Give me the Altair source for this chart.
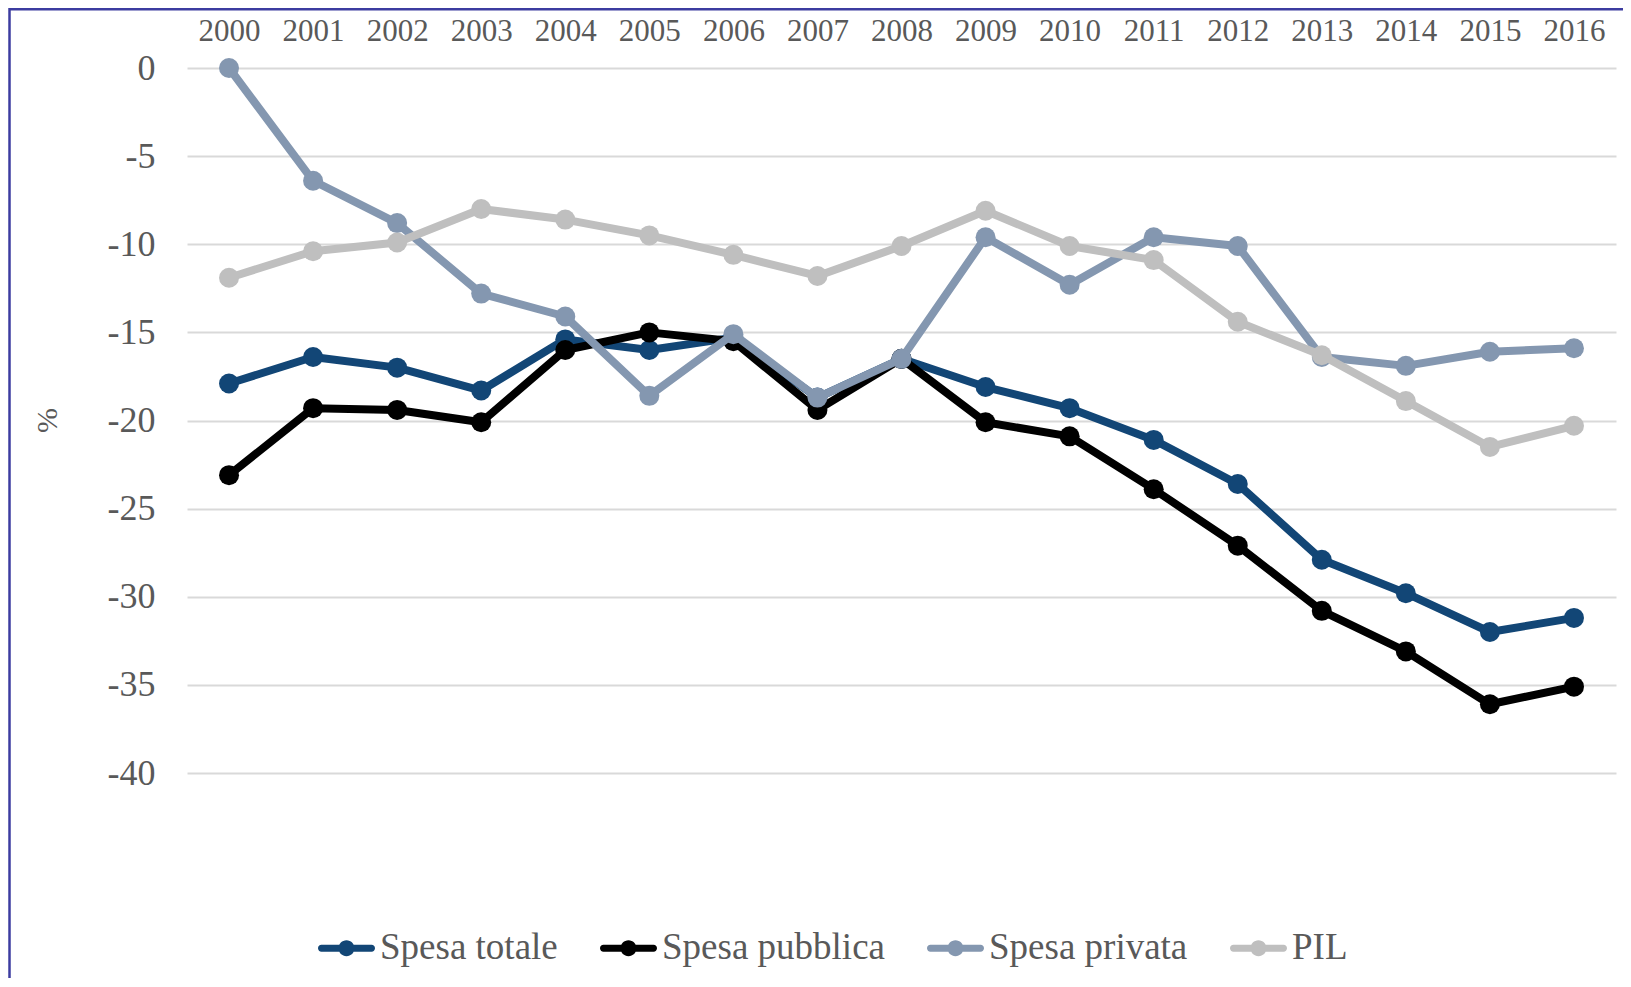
import altair as alt
import pandas as pd

years = ["2000", "2001", "2002", "2003", "2004", "2005", "2006", "2007", "2008",
         "2009", "2010", "2011", "2012", "2013", "2014", "2015", "2016"]

spesa_totale = [-17.9, -16.4, -17.0, -18.3, -15.4, -16.0, -15.3, -18.7, -16.5,
                -18.1, -19.3, -21.1, -23.6, -27.9, -29.8, -32.0, -31.2]
spesa_pubblica = [-23.1, -19.3, -19.4, -20.1, -16.0, -15.0, -15.5, -19.4, -16.5,
                  -20.1, -20.9, -23.9, -27.1, -30.8, -33.1, -36.1, -35.1]
spesa_privata = [0.0, -6.4, -8.8, -12.8, -14.1, -18.6, -15.1, -18.7, -16.5,
                 -9.6, -12.3, -9.6, -10.1, -16.4, -16.9, -16.1, -15.9]
pil = [-11.9, -10.4, -9.9, -8.0, -8.6, -9.5, -10.6, -11.8, -10.1,
       -8.1, -10.1, -10.9, -14.4, -16.3, -18.9, -21.5, -20.3]

series_names = ["Spesa totale", "Spesa pubblica", "Spesa privata", "PIL"]
series_values = [spesa_totale, spesa_pubblica, spesa_privata, pil]
colors = ["#124676", "#000000", "#8497B0", "#BFBFBF"]
y_ticks = [0, -5, -10, -15, -20, -25, -30, -35, -40]

rows = []
for name, vals in zip(series_names, series_values):
    for yr, v in zip(years, vals):
        rows.append({"anno": yr, "serie": name, "valore": v})
df = pd.DataFrame(rows)

FONT = "Liberation Serif"
GREY = "#595959"

x_enc = alt.X(
    "anno:O", sort=years,
    scale=alt.Scale(type="point", padding=0.5),
    axis=alt.Axis(orient="top", title=None, domain=False, ticks=False, tickSize=0,
                  grid=False, labelFont=FONT, labelFontSize=31, labelColor=GREY,
                  labelPadding=37, labelBaseline="middle", labelAngle=0),
)
y_enc = alt.Y(
    "valore:Q",
    scale=alt.Scale(domain=[-40, 0], nice=False, zero=False),
    axis=alt.Axis(values=y_ticks, title="%", titleFont=FONT, titleFontSize=30,
                  titleColor=GREY, titleFontWeight="normal", titleAngle=270,
                  titleX=-140, titleY=352, titleBaseline="middle", titleAlign="center",
                  domain=False, ticks=False, tickSize=0, grid=True,
                  gridColor="#D9D9D9", gridWidth=2,
                  labelFont=FONT, labelFontSize=36, labelColor=GREY, labelPadding=32,
                  labelExpr="'' + datum.value"),
)

# filled legend glyph: a rounded bar with a disc in the middle (unit box -1..1)
legend_path = ("M-0.88,-0.12 L0.88,-0.12 A0.12,0.12 0 0,1 0.88,0.12 L-0.88,0.12 "
               "A0.12,0.12 0 0,1 -0.88,-0.12 Z "
               "M-0.28,0 A0.28,0.28 0 1,1 0.28,0 A0.28,0.28 0 1,1 -0.28,0 Z")

legend = alt.Legend(orient="none", legendX=131, legendY=851.5, direction="horizontal",
                    title=None, symbolType=legend_path, symbolSize=3249,
                    symbolStrokeWidth=0, labelFont=FONT, labelFontSize=37,
                    labelColor=GREY, labelOffset=5, columnPadding=42,
                    labelLimit=600)

fill_scale = alt.Scale(domain=series_names, range=colors)
# same mapping, listed in reverse so that the hidden stroke legend stays separate
stroke_scale = alt.Scale(domain=series_names[::-1], range=colors[::-1])

layers = []
for name in series_names:
    base = alt.Chart(df).transform_filter(alt.datum.serie == name)
    line = base.mark_line(strokeWidth=8, strokeJoin="round", strokeCap="round").encode(
        x=x_enc, y=y_enc,
        stroke=alt.Stroke("serie:N", scale=stroke_scale, legend=None),
    )
    pts = base.mark_circle(size=400, opacity=1).encode(
        x=x_enc, y=y_enc,
        fill=alt.Fill("serie:N", scale=fill_scale, legend=legend),
    )
    layers += [line, pts]

frame_df = pd.DataFrame({"k": [0]})
frame_top = alt.Chart(frame_df).mark_rule(color="#3C3CA0", strokeWidth=2.5).encode(
    x=alt.value(-178), x2=alt.value(1436), y=alt.value(-58.8))
frame_left = alt.Chart(frame_df).mark_rule(color="#3C3CA0", strokeWidth=2.5).encode(
    x=alt.value(-177.5), y=alt.value(-60), y2=alt.value(910))

chart = alt.layer(*layers, frame_top, frame_left).properties(
    width=1429, height=705,
    autosize=alt.AutoSizeParams(type="none"),
    padding={"left": 179, "top": 60, "right": 7, "bottom": 205},
    background="white",
).configure_view(stroke=None)

chart.save("out.html", embed_options={"renderer": "svg", "actions": False})
